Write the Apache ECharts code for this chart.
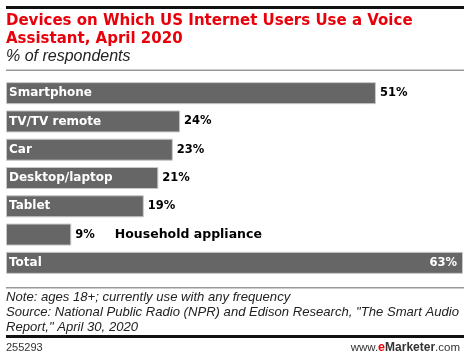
<!DOCTYPE html>
<html><head><meta charset="utf-8">
<script src="https://cdn.jsdelivr.net/npm/echarts@6/dist/echarts.min.js"></script>
<style>html,body{margin:0;padding:0;background:#fff}#c{width:470px;height:357px}</style>
</head><body><div id="c"></div>
<script>
const categories = ['Smartphone', 'TV/TV remote', 'Car', 'Desktop/laptop', 'Tablet', 'Household appliance', 'Total'];
const values = [51, 24, 23, 21, 19, 9, 63];
const titleText = 'Devices on Which US Internet Users Use a Voice\nAssistant, April 2020';
const subtitleText = '% of respondents';
const noteLines = ['Note: ages 18+; currently use with any frequency',
  'Source: National Public Radio (NPR) and Edison Research, "The Smart Audio',
  'Report," April 30, 2020'];
const chartId = '255293';

const chart = echarts.init(document.getElementById('c'), null, {renderer: 'canvas'});
const boldFont = 'DejaVu Sans';
const data = values.map((v, i) => {
  const item = {value: v};
  if (categories[i] === 'Household appliance') {
    item.label = {
      formatter: '{v|' + v + '%}{n|' + categories[i] + '}',
      rich: {
        v: {color: '#000', fontWeight: 'bold', fontSize: 11.5, fontFamily: boldFont},
        n: {color: '#000', fontWeight: 'bold', fontSize: 12.5, fontFamily: boldFont, padding: [0, 0, 0, 20]}
      }
    };
  }
  if (categories[i] === 'Total') {
    item.label = {position: 'insideRight', color: '#fff', distance: 6};
  }
  return item;
});

chart.setOption({
  animation: false,
  title: [
    {text: titleText, left: 6, top: 12, padding: 0,
     textStyle: {color: '#e8000b', fontFamily: boldFont, fontWeight: 'bold', fontSize: 15, lineHeight: 18}},
    {text: subtitleText, left: 6, top: 49, padding: 0,
     textStyle: {color: '#222', fontFamily: 'Liberation Sans', fontStyle: 'italic', fontWeight: 'normal', fontSize: 16}}
  ],
  grid: {left: 6, right: 7, top: 79, bottom: 80, containLabel: false},
  xAxis: {type: 'value', min: 0, max: 63, show: false},
  yAxis: {
    type: 'category', data: categories, inverse: true,
    axisLine: {show: false}, axisTick: {show: false}, splitLine: {show: false},
    axisLabel: {
      inside: true, margin: 3, color: '#fff', fontFamily: boldFont, fontWeight: 'bold', fontSize: 12,
      formatter: (v) => v === 'Household appliance' ? '' : v
    },
    z: 10
  },
  series: [{
    type: 'bar', data: data, barWidth: 22,
    itemStyle: {color: '#666666', borderColor: '#c8c8c8', borderWidth: 1},
    label: {show: true, position: 'right', distance: 4, formatter: '{c}%', color: '#000',
      fontFamily: boldFont, fontWeight: 'bold', fontSize: 11.5}
  }],
  graphic: [
    {type: 'rect', shape: {x: 6, y: 6, width: 458, height: 3}, style: {fill: '#111'}},
    {type: 'rect', shape: {x: 6, y: 69.5, width: 458, height: 1.5}, style: {fill: '#999'}},
    {type: 'rect', shape: {x: 6, y: 287, width: 458, height: 1.5}, style: {fill: '#999'}},
    {type: 'text', left: 6, top: 290, style: {text: noteLines.join('\n'), fill: '#222',
      font: 'italic 13.1px "Liberation Sans"', lineHeight: 15}},
    {type: 'rect', shape: {x: 6, y: 335, width: 458, height: 3}, style: {fill: '#111'}},
    {type: 'text', left: 6, top: 342, style: {text: chartId, fill: '#333', font: '11px "Liberation Sans"'}},
    {type: 'text', right: 10, top: 341, style: {
      text: '{a|www.}{e|e}{m|Marketer}{a|.com}',
      rich: {
        a: {fill: '#333', font: '11.5px "Liberation Sans"'},
        e: {fill: '#e8000b', font: 'bold 12.5px "Liberation Sans"'},
        m: {fill: '#333', font: 'bold 12px "Liberation Sans"'}
      }}}
  ]
});
</script></body></html>
